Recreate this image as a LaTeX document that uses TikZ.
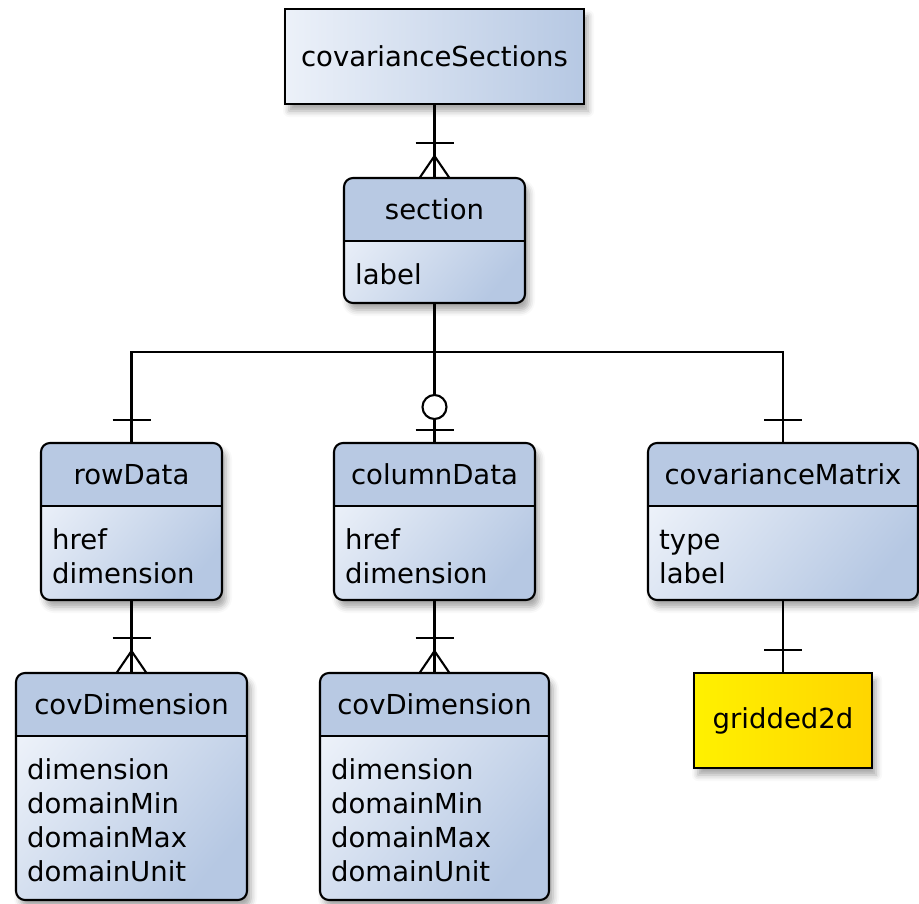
\documentclass[tikz,border=0pt]{standalone}
\usepackage{fontspec}
\setmainfont{DejaVu Sans}
\usetikzlibrary{calc,shadows.blur}

\definecolor{headblue}{RGB}{184,201,227}
\definecolor{bodylight}{RGB}{236,241,249}
\definecolor{bodydark}{RGB}{182,200,227}
\definecolor{yellowlight}{RGB}{255,241,0}
\definecolor{yellowdark}{RGB}{255,213,0}

\tikzset{
	conn/.style={line width=2.1pt},
	boxshadow/.style={blur shadow={shadow xshift=4pt, shadow yshift=-7pt, shadow blur radius=6pt, shadow opacity=35}},
	entbody/.style={inner sep=0pt, outer sep=0pt, rounded corners=9pt, top color=bodylight, bottom color=bodydark, shading angle=50, boxshadow},
	plainbox/.style={draw, line width=2.1pt, inner sep=0pt, outer sep=0pt, anchor=north west, boxshadow}
}

% entity: name, left, top, width, height, title, attributes
\newcommand{\entity}[7]{
	\node[entbody, minimum width=#4pt, minimum height=#5pt, anchor=north west] (#1) at (#2,-#3) {};
	% header band
	\begin{scope}
		\clip[rounded corners=9pt] (#1.north west) rectangle (#1.south east);
		\fill[headblue] (#1.north west) rectangle ($(#1.north east)+(0,-63)$);
	\end{scope}
	\draw[conn] ($(#1.north west)+(0,-63)$) -- ($(#1.north east)+(0,-63)$);
	\draw[conn, rounded corners=9pt] (#1.north west) rectangle (#1.south east);
	\node (#1-title) at ($(#1.north)+(0,-31.5)$) {#6};
	% attribute lines
	\foreach \attr [count=\i] in {#7}
		\node[inner sep=0pt, anchor=base west] (#1-a\i) at ($(#1.north west)+(11,{-106-34*(\i-1)})$) {\attr};
}

% relationship ends
\newcommand{\onemark}[2]{
	\draw[conn] ($(#1.north)+(-19,#2)$) -- ($(#1.north)+(19,#2)$);}
\newcommand{\manymark}[1]{
	\onemark{#1}{35}
	\draw[conn] ($(#1.north)+(-15,0)$) -- ($(#1.north)+(0,22)$) -- ($(#1.north)+(15,0)$);}
\newcommand{\zeromark}[1]{
	\onemark{#1}{13}
	\draw[conn, fill=white] ($(#1.north)+(0,36)$) circle (12pt);}

\begin{document}
\begin{tikzpicture}[x=1pt, y=1pt, font=\fontsize{27.5}{33}\selectfont]
	\useasboundingbox (0,0) rectangle (919,-903);

	% root
	\node[plainbox, minimum width=299pt, minimum height=95pt, left color=bodylight, right color=bodydark] (covSections) at (285,-9) {covarianceSections};

	% entities
	\entity{section}{344}{178}{181}{125}{section}{label}
	\entity{rowData}{41}{443}{181}{157}{rowData}{href,dimension}
	\entity{columnData}{334}{443}{201}{157}{columnData}{href,dimension}
	\entity{covMatrix}{648}{443}{270}{157}{covarianceMatrix}{type,label}
	\entity{covDimA}{16}{673}{231}{227}{covDimension}{dimension,domainMin,domainMax,domainUnit}
	\entity{covDimB}{320}{673}{229}{227}{covDimension}{dimension,domainMin,domainMax,domainUnit}

	\node[plainbox, minimum width=178pt, minimum height=95pt, left color=yellowlight, right color=yellowdark] (gridded) at (694,-673) {gridded2d};

	% connectors
	\coordinate (split) at ($(section.south)+(0,-49)$);
	\draw[conn] (covSections.south) -- (section.north);
	\draw[conn] (section.south) -- (split);
	\draw[conn] (split) -| (rowData.north);
	\draw[conn] (split) -| (covMatrix.north);
	\draw[conn] (split) -- (columnData.north);
	\draw[conn] (rowData.south) -- (covDimA.north);
	\draw[conn] (columnData.south) -- (covDimB.north);
	\draw[conn] (covMatrix.south) -- (gridded.north);

	% ends
	\manymark{section}
	\onemark{rowData}{23}
	\zeromark{columnData}
	\onemark{covMatrix}{23}
	\manymark{covDimA}
	\manymark{covDimB}
	\onemark{gridded}{23}
\end{tikzpicture}
\end{document}
